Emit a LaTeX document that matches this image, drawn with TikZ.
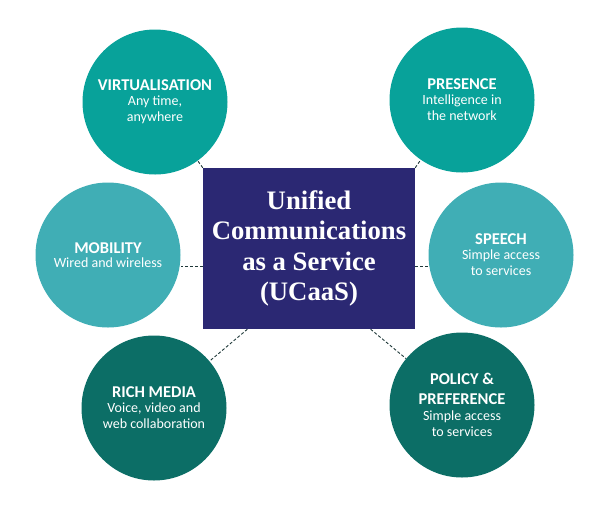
\documentclass[tikz,border=0pt]{standalone}
\usepackage{fontspec}
\setmainfont{Liberation Serif}
\newfontfamily\carlito{Carlito}
\usetikzlibrary{backgrounds,calc}
\definecolor{ucnavy}{RGB}{43,40,115}
\definecolor{tealA}{RGB}{8,162,154}
\definecolor{tealB}{RGB}{64,174,181}
\definecolor{tealC}{RGB}{12,110,102}
\definecolor{linkgray}{RGB}{30,56,56}
\newcommand\bubhead[1]{{\bfseries\fontsize{16.5}{16.5}\selectfont #1}}

\begin{document}
\begin{tikzpicture}[x=1pt,y=-1pt,
  bubble/.style={circle,minimum size=145pt,inner sep=0pt,text=white,align=center,
    font=\carlito\fontsize{14}{16.7}\selectfont},
  link/.style={draw=linkgray,dash pattern=on 3pt off 2pt,line width=0.9pt}]
  \useasboundingbox (0,0) rectangle (604,512);
% centre box
  \node[fill=ucnavy,minimum width=212pt,minimum height=161pt,inner sep=0pt,text=white,
    align=center,font=\bfseries\fontsize{26.7}{30.5}\selectfont] (uc) at (309,248.5)
    {Unified\\Communications\\as a Service\\(UCaaS)};
% the six bubbles
  \node[bubble,fill=tealA] (virt) at (155,102) {\bubhead{VIRTUALISATION}\\[-2.5pt]Any time,\\anywhere};
  \node[bubble,fill=tealA] (pres) at (462,100) {\bubhead{PRESENCE}\\[-2.5pt]Intelligence in\\the network};
  \node[bubble,fill=tealB] (mob) at (108,255) {\bubhead{MOBILITY}\\[-2.5pt]Wired and wireless};
  \node[bubble,fill=tealB] (spch) at (501,255) {\bubhead{SPEECH}\\[-2.5pt]Simple access\\to services};
  \node[bubble,fill=tealC] (rich) at (154,408) {\bubhead{RICH MEDIA}\\[-2.5pt]Voice, video and\\web collaboration};
  \node[bubble,fill=tealC] (pol) at (462,405) {\bubhead{POLICY \&}\\[3.5pt]\bubhead{PREFERENCE}\\[-1pt]Simple access\\to services};
% dashed links
  \begin{scope}[on background layer]
    \coordinate (midL) at (0,266);
    \draw[link] (uc.north west) -- (virt);
    \draw[link] (uc.north east) -- (pres);
    \draw[link] (uc.west |- midL) -- (mob.east |- midL);
    \draw[link] (uc.east |- midL) -- (spch.west |- midL);
    \draw[link] ($(uc.south west)!0.21!(uc.south east)$) -- (rich);
    \draw[link] ($(uc.south west)!0.79!(uc.south east)$) -- (pol);
  \end{scope}
\end{tikzpicture}
\end{document}
